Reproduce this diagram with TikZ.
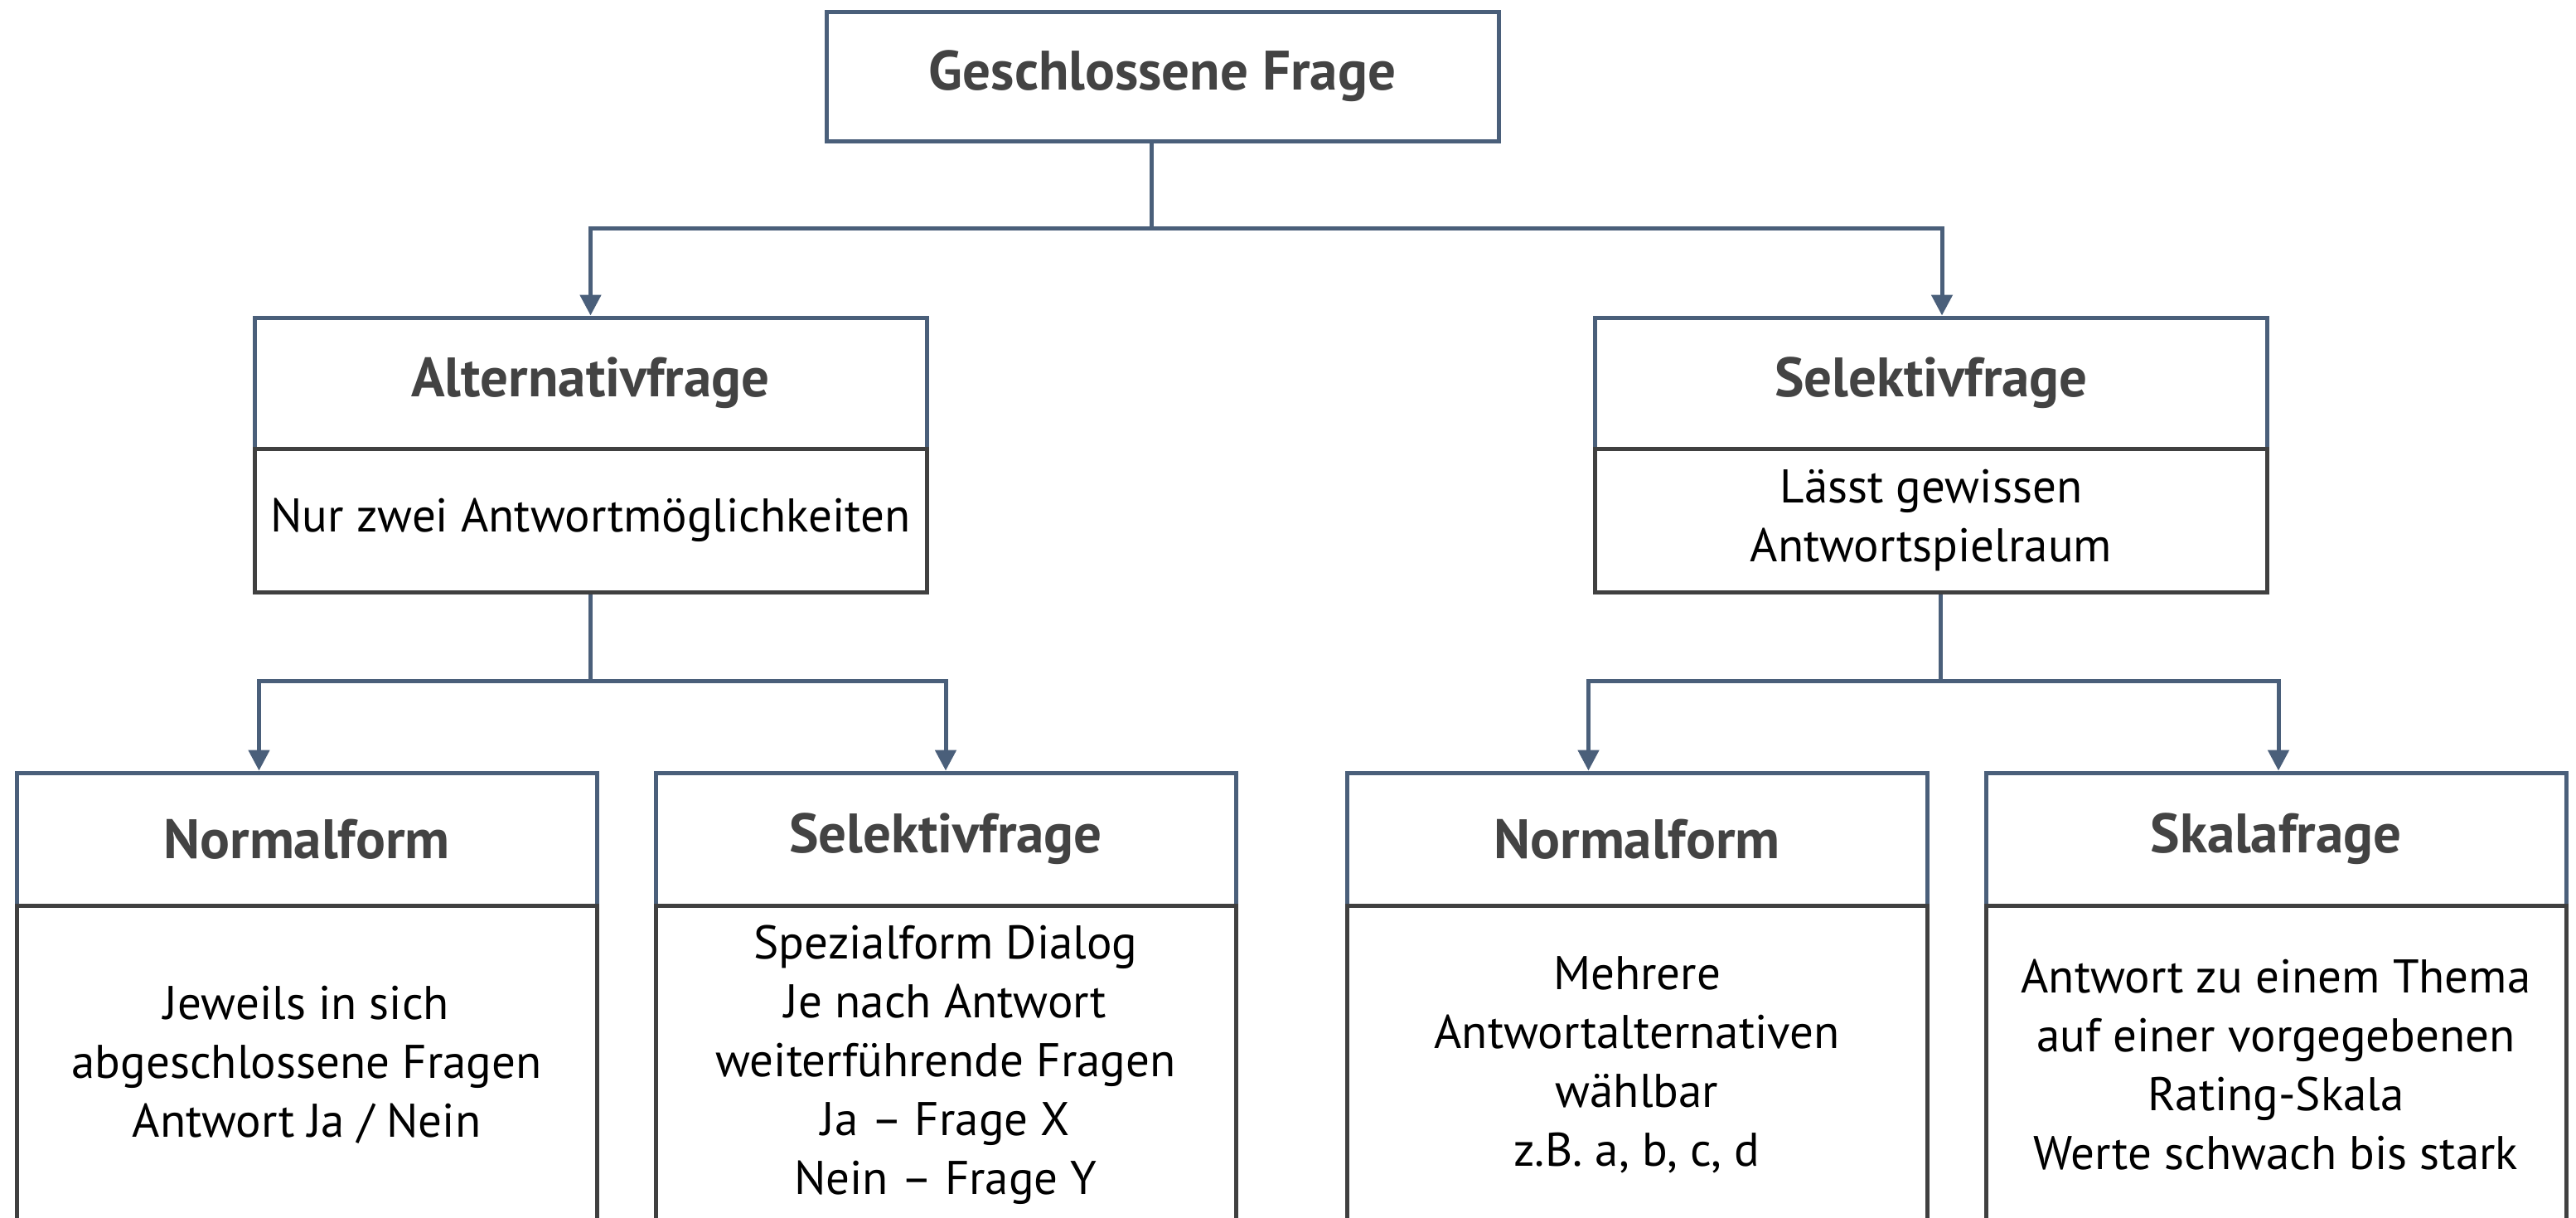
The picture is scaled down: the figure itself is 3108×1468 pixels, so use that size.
\documentclass[tikz,border=0pt]{standalone}
\usepackage{fontspec}
\setmainfont{PT Sans}
\usetikzlibrary{arrows.meta,calc}
\definecolor{frameblue}{HTML}{4A5F7A}
\definecolor{framegray}{HTML}{404040}
\definecolor{headtext}{HTML}{434343}
\tikzset{
  headbox/.style={draw=frameblue, line width=5pt, inner sep=0pt, align=center,
    font=\fontsize{67}{72}\selectfont\bfseries, text=headtext},
  bodybox/.style={draw=framegray, line width=5pt, inner sep=0pt, align=center,
    font=\fontsize{57}{71}\selectfont, text=black},
  conn/.style={draw=frameblue, line width=5pt},
  arr/.style={conn, -{Triangle[length=25pt,width=25pt]}},
}
\begin{document}
\begin{tikzpicture}[x=1pt,y=-1pt]
\clip (0,0) rectangle (3108,1468);
\fill[white] (0,0) rectangle (3108,1468);

% root
\node[headbox, minimum width=811pt, minimum height=156pt] (top) at (1402.5,92) {Geschlossene Frage};

% second level
\node[headbox, minimum width=811pt, minimum height=158pt] (althead) at (712.5,462) {Alternativfrage};
\node[bodybox, minimum width=811pt, minimum height=173pt] (altbody) at (712.5,627.5) {Nur zwei Antwortmöglichkeiten};
\node[headbox, minimum width=811pt, minimum height=158pt] (selhead) at (2330,462) {Selektivfrage};
\node[bodybox, minimum width=811pt, minimum height=173pt] (selbody) at (2330,627.5) {Lässt gewissen\\Antwortspielraum};

% third level
\node[headbox, minimum width=700pt, minimum height=160pt] (nfahead) at (370,1012) {Normalform};
\node[bodybox, minimum width=700pt, minimum height=384pt] (nfabody) at (370,1284)
  {Jeweils in sich\\abgeschlossene Fragen\\Antwort Ja / Nein};
\node[headbox, minimum width=700pt, minimum height=160pt] (sfhead) at (1141,1012) {Selektivfrage};
\node[bodybox, minimum width=700pt, minimum height=384pt] (sfbody) at (1141,1284)
  {Spezialform Dialog\\Je nach Antwort\\weiterführende Fragen\\Ja – Frage X\\Nein – Frage Y};
\node[headbox, minimum width=700pt, minimum height=160pt] (nfbhead) at (1975,1012) {Normalform};
\node[bodybox, minimum width=700pt, minimum height=384pt] (nfbbody) at (1975,1284)
  {Mehrere\\Antwortalternativen\\wählbar\\z.B. a, b, c, d};
\node[headbox, minimum width=700pt, minimum height=160pt] (skhead) at (2746,1012) {Skalafrage};
\node[bodybox, minimum width=700pt, minimum height=384pt] (skbody) at (2746,1284)
  {Antwort zu einem Thema\\auf einer vorgegebenen\\Rating-Skala\\Werte schwach bis stark};

% connectors
\coordinate (j1) at (1389,275);
\draw[conn] (top.south -| j1) -- (j1);
\draw[arr] (j1) -| (althead.north);
\draw[arr] (j1) -| ($(selhead.north)+(13,0)$);

\coordinate (j2) at (712,821);
\draw[conn] (altbody.south -| j2) -- (j2);
\draw[arr] (j2) -| ($(nfahead.north west)+(295,0)$);
\draw[arr] (j2) -| (sfhead.north);

\coordinate (j3) at (2341,821);
\draw[conn] (selbody.south -| j3) -- (j3);
\draw[arr] (j3) -| ($(nfbhead.north west)+(294,0)$);
\draw[arr] (j3) -| ($(skhead.north)+(3,0)$);
\end{tikzpicture}
\end{document}
